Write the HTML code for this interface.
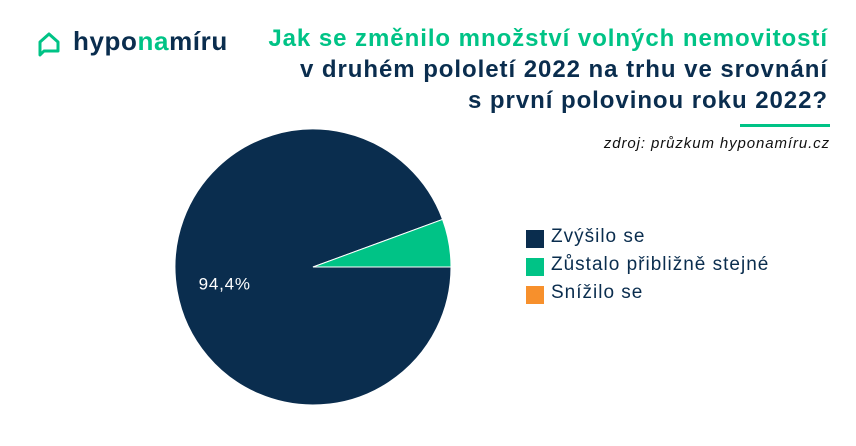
<!DOCTYPE html>
<html><head><meta charset="utf-8"><style>
body{margin:0;width:856px;height:446px;background:#fff;font-family:"Liberation Sans",sans-serif;overflow:hidden;position:relative}
.t{position:absolute;right:28px;text-align:right;font-weight:bold;font-size:24px;line-height:31px;top:23px;color:#0a2d4e;letter-spacing:0.95px;white-space:nowrap}
</style></head><body>
<div style="position:absolute;left:36px;top:27px;height:30px">
<svg width="28" height="30" style="position:absolute;left:0;top:3px"><path d="M4 12 L13 4 L22 12 L22 21 L8 21 L4 25 Z" fill="none" stroke="#00c386" stroke-width="3" stroke-linejoin="round"/></svg>
<span style="position:absolute;left:37px;top:-1px;font-size:26px;font-weight:bold;color:#0a2d4e;white-space:nowrap;letter-spacing:0.6px">hypo<span style="color:#00c386">na</span>míru</span>
</div>
<div class="t"><span style="color:#00c386">Jak se změnilo množství volných nemovitostí</span><br>v druhém pololetí 2022 na trhu ve srovnání<br>s první polovinou roku 2022?</div>
<div style="position:absolute;left:740px;top:124px;width:90px;height:3px;background:#00c386"></div>
<div style="position:absolute;right:26px;top:135px;font-size:15px;font-style:italic;color:#111;letter-spacing:0.9px">zdroj: průzkum hyponamíru.cz</div>
<svg id="pie" width="856" height="446" style="position:absolute;left:0;top:0"></svg>
<div style="position:absolute;left:526px;top:228px;font-size:19px;color:#0a2d4e;letter-spacing:1px" id="legend"></div>
<script>
const categories=["Zvýšilo se","Zůstalo přibližně stejné","Snížilo se"];
const values=[94.4,5.6,0];
const colors=["#0a2d4e","#00c386","#f7902c"];
const cx=313,cy=267,r=138;
const svg=document.getElementById('pie');
const total=values.reduce((a,b)=>a+b,0);
let ang=0;
values.forEach((v,i)=>{
  if(v<=0)return;
  const sweep=v/total*2*Math.PI;
  const a0=ang,a1=ang+sweep;ang=a1;
  const x0=cx+r*Math.cos(a0),y0=cy+r*Math.sin(a0),x1=cx+r*Math.cos(a1),y1=cy+r*Math.sin(a1);
  const p=document.createElementNS('http://www.w3.org/2000/svg','path');
  p.setAttribute('d',`M${cx} ${cy} L${x0} ${y0} A${r} ${r} 0 ${sweep>Math.PI?1:0} 1 ${x1} ${y1} Z`);
  p.setAttribute('fill',colors[i]);p.setAttribute('stroke','#fff');p.setAttribute('stroke-width','1');
  
  
  svg.appendChild(p);
  if(v>50){
    const m=(a0+a1)/2;
    const t=document.createElementNS('http://www.w3.org/2000/svg','text');
    t.setAttribute('x',cx+r*0.65*Math.cos(m));t.setAttribute('y',cy+r*0.65*Math.sin(m)+7);
    t.setAttribute('fill','#fff');t.setAttribute('font-size','17');t.setAttribute('text-anchor','middle');
    t.setAttribute('letter-spacing','0.8');
    t.setAttribute('font-family','Liberation Sans, sans-serif');
    t.textContent=v.toFixed(1).replace('.',',')+'%';
    
    
    svg.appendChild(t);
  }
});
const lg=document.getElementById('legend');
categories.forEach((c,i)=>{
  const d=document.createElement('div');
  d.style.cssText='position:absolute;left:0;top:'+(i*28)+'px;white-space:nowrap;height:20px';
  d.innerHTML='<span style="position:absolute;left:0;top:2px;width:18px;height:18px;background:'+colors[i]+'"></span><span style="position:absolute;left:25px;top:-2px">'+c+'</span>';
  
  
  lg.appendChild(d);
});
</script>
</body></html>
